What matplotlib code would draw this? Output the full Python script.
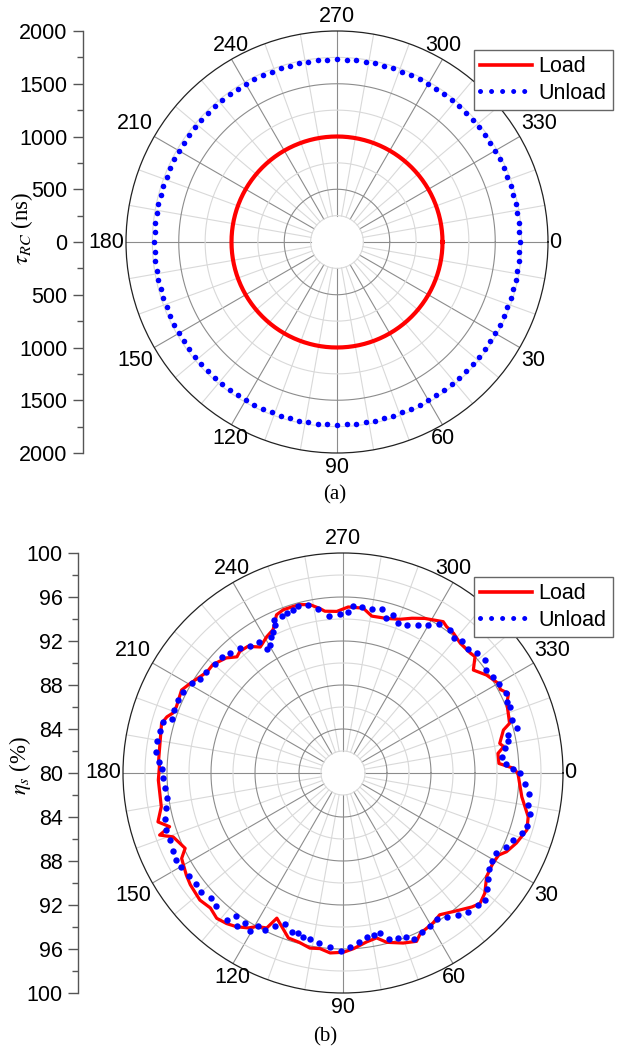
#!/usr/bin/env python
import numpy as np
from matplotlib import rcParams

rcParams['font.family'] = 'sans-serif'
rcParams['font.sans-serif'] = ['Liberation Sans']
rcParams['mathtext.fontset'] = 'stix'

import matplotlib.pyplot as plt
from matplotlib.lines import Line2D

# ---- (a) tau_RC, constant circles
tau_load = 1000.0
tau_unload = 1730.0
tau_unload_step = 3      # one dot every 3 deg

# ---- (b) eta_s (%) vs angle (deg)
load_theta = [0.1, 7.6, 13.3, 17.2, 22.0, 25.7, 27.8, 31.0, 35.8, 40.3,
              43.6, 46.1, 51.5, 55.7, 59.0, 64.3, 66.4, 70.5, 75.5, 78.5,
              82.0, 86.6, 89.9, 94.1, 97.5, 100.7, 104.5, 108.3, 114.5, 116.2,
              119.3, 121.4, 124.7, 127.7, 131.0, 134.5, 138.4, 143.8, 146.9, 152.1,
              154.5, 159.4, 161.3, 162.8, 165.2, 169.5, 177.8, 182.0, 184.0, 195.3,
              197.7, 199.4, 201.7, 207.2, 210.4, 216.6, 219.8, 224.6, 227.6, 229.7,
              233.1, 236.7, 240.8, 244.0, 245.6, 247.2, 249.9, 253.4, 255.6, 258.9,
              262.0, 263.6, 267.8, 271.8, 277.0, 280.4, 285.8, 290.3, 294.0, 297.9,
              303.5, 305.3, 308.3, 312.1, 316.7, 318.6, 321.7, 325.7, 330.0, 332.1,
              334.3, 336.9, 343.4, 345.0, 349.3, 350.7, 352.8, 356.5, 358.4]
load_eta = [95.9, 96.4, 97.3, 97.5, 97.0, 96.5, 96.0, 95.9, 96.1, 96.9,
            97.2, 96.9, 96.1, 95.6, 95.9, 96.2, 96.7, 96.4, 95.9, 95.3,
            95.5, 96.0, 96.3, 96.4, 96.1, 96.2, 95.9, 95.8, 94.5, 95.7,
            96.0, 96.5, 97.0, 97.3, 97.5, 97.2, 97.4, 97.2, 97.0, 96.6,
            95.9, 96.5, 97.6, 96.5, 97.4, 96.8, 96.8, 96.7, 96.8, 97.1,
            96.8, 96.4, 96.3, 96.5, 96.1, 95.4, 95.4, 94.9, 94.3, 94.5,
            94.4, 93.7, 94.2, 94.5, 95.0, 95.6, 95.8, 95.8, 95.8, 95.6,
            95.1, 94.8, 94.7, 95.1, 95.1, 94.5, 94.6, 94.9, 95.4, 95.9,
            96.5, 96.3, 96.2, 95.9, 95.9, 96.0, 95.1, 95.8, 96.3, 96.2,
            96.7, 96.2, 95.8, 95.1, 94.5, 94.8, 94.2, 94.2, 95.5]

unload_theta = [0.1, 3.5, 6.5, 9.8, 12.5, 16.0, 18.6, 21.5, 24.5, 27.7,
                30.5, 33.3, 36.3, 38.7, 41.7, 44.3, 47.9, 51.1, 54.2, 57.3,
                60.3, 63.6, 66.8, 69.0, 71.4, 74.4, 76.9, 79.2, 81.8, 84.5,
                87.7, 90.7, 94.3, 97.9, 101.3, 103.7, 105.6, 107.9, 111.1, 114.0,
                116.4, 119.0, 120.4, 123.1, 124.8, 126.9, 128.4, 133.6, 136.6, 140.1,
                142.9, 146.2, 149.8, 152.5, 155.5, 158.9, 162.2, 165.4, 168.7, 171.8,
                175.3, 178.3, 181.2, 183.5, 186.5, 189.8, 193.0, 195.8, 197.4, 200.6,
                203.9, 207.0, 210.7, 213.3, 216.5, 220.4, 223.8, 226.9, 230.4, 233.6,
                237.4, 238.3, 240.1, 242.1, 243.7, 245.3, 245.7, 248.6, 250.6, 252.9,
                255.0, 258.3, 261.5, 265.0, 268.9, 271.9, 273.5, 276.4, 280.0, 283.3,
                285.5, 287.7, 290.3, 293.5, 297.0, 300.0, 302.9, 306.8, 309.5, 312.1,
                315.4, 318.2, 321.3, 324.2, 327.4, 330.4, 333.8, 336.6, 338.5, 342.6,
                345.5, 347.1, 348.9, 351.3, 354.1, 356.7, 358.8]
unload_eta = [96.1, 96.6, 97.0, 97.1, 97.4, 97.4, 97.2, 96.6, 96.3, 95.7,
              95.7, 95.9, 96.3, 96.8, 97.3, 97.2, 97.0, 96.6, 96.1, 95.8,
              96.0, 96.1, 96.4, 96.0, 95.8, 95.7, 94.9, 95.0, 95.1, 95.4,
              95.8, 96.2, 95.9, 95.6, 95.4, 95.3, 95.1, 95.2, 94.7, 95.2,
              95.9, 95.9, 96.7, 96.3, 96.9, 96.2, 97.0, 96.7, 96.5, 96.8,
              96.8, 96.9, 97.0, 97.1, 97.0, 96.9, 96.9, 96.7, 96.4, 96.2,
              96.2, 96.4, 96.5, 96.8, 97.1, 97.2, 97.1, 97.0, 96.3, 96.4,
              96.4, 96.3, 96.0, 95.6, 95.5, 95.3, 95.2, 95.0, 94.7, 94.3,
              94.1, 93.2, 93.4, 94.0, 94.3, 94.8, 95.3, 95.3, 95.4, 95.5,
              95.7, 95.6, 95.1, 94.3, 94.5, 94.6, 95.2, 95.2, 95.1, 95.3,
              94.6, 95.1, 94.5, 94.7, 95.1, 95.5, 96.1, 96.2, 95.9, 96.2,
              96.0, 96.4, 96.5, 96.0, 96.2, 96.3, 96.5, 96.2, 96.3, 96.1,
              96.3, 95.4, 95.3, 94.9, 94.5, 94.8, 95.5]

W, H = 630.0, 1051.0
MAJ_GRID = '#8c8c8c'
MIN_GRID = '#d9d9d9'
FS = 15.5


def draw_grid(ax, rin, rmax, rstep, rmajor):
    th = np.linspace(0, 2 * np.pi, 721)
    for a in range(0, 360, 10):
        col = MAJ_GRID if a % 30 == 0 else MIN_GRID
        ax.plot([np.radians(a)] * 2, [rin, rmax], color=col, lw=0.8, zorder=1)
    r = rin
    while r < rmax - 1e-9:
        major = abs((r - ax_base[ax]) % rmajor) < 1e-9
        ax.plot(th, [r] * len(th), color=MAJ_GRID if major else MIN_GRID,
                lw=0.8, zorder=1)
        r += rstep


def put_angle_labels(ax, rmax):
    for a in range(0, 360, 30):
        c = np.cos(np.radians(a))
        s = np.sin(np.radians(a))
        ha = 'left' if c > 0.6 else ('right' if c < -0.6 else 'center')
        va = 'top' if s > 0.3 else ('bottom' if s < -0.3 else 'center')
        ax.annotate(str(a), xy=(np.radians(a), rmax), xytext=(c * 1.0, -s * 3.0),
                    textcoords='offset points', ha=ha, va=va, fontsize=FS,
                    annotation_clip=False)


def setup_polar(rect, rmin, rmax):
    ax = fig.add_axes(rect, projection='polar')
    ax.set_theta_zero_location('E')
    ax.set_theta_direction(-1)
    ax.grid(False)
    ax.set_xticks([])
    ax.set_yticks([])
    ax.spines['polar'].set_color('#222222')
    ax.spines['polar'].set_linewidth(0.9)
    ax_base[ax] = rmin
    return ax


def radial_scale(x_px, rect, half, major, minor, offset):
    # Origin-style linear axis at the left: max ... 0 ... max
    lax = fig.add_axes([x_px / W, rect[1], 0.001, rect[3]])
    lax.set_ylim(-half, half)
    lax.patch.set_visible(False)
    for sp in ['top', 'right', 'bottom']:
        lax.spines[sp].set_visible(False)
    lax.spines['left'].set_color('#555555')
    lax.spines['left'].set_linewidth(1.0)
    lax.set_xticks([])
    ticks = np.arange(-half, half + major / 2, major)
    lax.set_yticks(ticks)
    lax.set_yticklabels(['%d' % (offset + abs(t)) for t in ticks])
    lax.set_yticks(np.arange(-half, half + minor / 2, minor), minor=True)
    lax.tick_params(axis='y', which='major', direction='out', length=7, width=1,
                    color='#555555', labelsize=FS, pad=4)
    lax.tick_params(axis='y', which='minor', direction='out', length=4, width=1,
                    color='#555555')
    return lax


def add_legend(ax, top_px, dot_lw):
    handles = [Line2D([], [], color='#ff0000', lw=2.6),
               Line2D([], [], color='#0000ff', lw=dot_lw, ls=(0, (0.01, 2.2)),
                      dash_capstyle='round')]
    leg = ax.legend(handles, ['Load', 'Unload'], loc='upper right',
                    bbox_to_anchor=(613 / W, 1 - top_px / H),
                    bbox_transform=fig.transFigure, borderaxespad=0,
                    frameon=True, fancybox=False, framealpha=1,
                    edgecolor='#666666', fontsize=FS, handlelength=2.4,
                    handletextpad=0.3, borderpad=0.3, labelspacing=0.25)
    leg.get_frame().set_linewidth(1.0)


fig = plt.figure(figsize=(W / 100, H / 100), dpi=100)
ax_base = {}

# ================= (a) =================
rect_a = [(337 - 211) / W, 1 - (242 + 211) / H, 422 / W, 422 / H]
ax1 = setup_polar(rect_a, 0, 2000)
draw_grid(ax1, 250, 2000, 250, 500)
th = np.radians(np.arange(0, 361, 1))
ax1.plot(th, [tau_load] * len(th), color='#ff0000', lw=3.0, zorder=3)
th_u = np.radians(np.arange(0, 360, tau_unload_step))
ax1.plot(th_u, [tau_unload] * len(th_u), ls='none', marker='o', ms=4.0,
         mew=0, color='#0000ff', zorder=4)
ax1.set_ylim(0, 2000)
put_angle_labels(ax1, 2000)
radial_scale(83, rect_a, 2000, 500, 250, 0)
add_legend(ax1, 50, 3.6)
fig.text(22 / W, 1 - 228 / H, r'$\tau_{RC}$ (ns)', rotation=90, ha='center',
         va='center', fontsize=16.5, family='Liberation Serif')
fig.text(335 / W, 1 - 495 / H, '(a)', ha='center', va='center', fontsize=15,
         family='Liberation Serif')

# ================= (b) =================
rect_b = [(343 - 220) / W, 1 - (773 + 220) / H, 440 / W, 440 / H]
ax2 = setup_polar(rect_b, 80, 100)
draw_grid(ax2, 82, 100, 2, 4)
lt = np.radians(load_theta + [load_theta[0] + 360])
ax2.plot(lt, load_eta + [load_eta[0]], color='#ff0000', lw=2.3, zorder=3)
ax2.plot(np.radians(unload_theta), unload_eta, ls='none', marker='o', ms=4.6,
         mew=0, color='#0000ff', zorder=4)
ax2.set_ylim(80, 100)
put_angle_labels(ax2, 100)
radial_scale(78, rect_b, 20, 4, 2, 80)
add_legend(ax2, 577, 3.6)
fig.text(20 / W, 1 - 765 / H, r'$\eta_s$ (%)', rotation=90, ha='center',
         va='center', fontsize=16.5, family='Liberation Serif')
fig.text(325 / W, 1 - 1037 / H, '(b)', ha='center', va='center', fontsize=15,
         family='Liberation Serif')

fig.savefig('out.png', dpi=100)
